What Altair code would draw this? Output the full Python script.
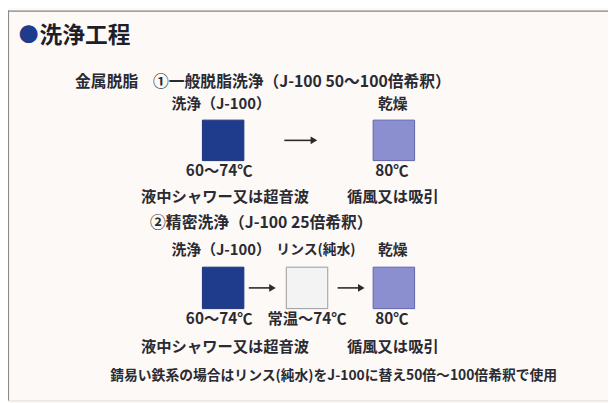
import altair as alt
import pandas as pd

# ---------------- content (text values) ----------------
TITLE_BULLET = "●"
TITLE = "洗浄工程"
HEADER1_A = "金属脱脂"
HEADER1_B = "①一般脱脂洗浄（J-100 50〜100倍希釈）"
HEADER2 = "②精密洗浄（J-100 25倍希釈）"
STEPS1 = ["洗浄（J-100）", "乾燥"]
KIND1 = ["wash", "dry"]
TEMPS1 = ["60〜74℃", "80℃"]
STEPS2 = ["洗浄（J-100）", "リンス(純水)", "乾燥"]
KIND2 = ["wash", "rinse", "dry"]
TEMPS2 = ["60〜74℃", "常温〜74℃", "80℃"]
METHODS = ["液中シャワー又は超音波", "循風又は吸引"]
NOTE = "錆易い鉄系の場合はリンス(純水)をJ-100に替え50倍〜100倍希釈で使用"

# ---------------- layout & style ----------------
FONT = "Noto Sans CJK JP"
TXT = "#2a2a32"
NAVY = "#1f3c8c"
FILL = {"wash": NAVY, "rinse": "#f3f3f4", "dry": "#8b8fd0"}
EDGE = {"wash": "#1a3278", "rinse": "#9a9a9a", "dry": "#5f63ad"}
COLX = {"wash": 226, "rinse": 311, "dry": 399}
LABELX = {"wash": 224, "rinse": 320, "dry": 398}
TEMPX = {"wash": 222, "rinse": 311, "dry": 397}
METHODX = [228, 398]
BOX_HALF = 21
ROW1 = dict(label=103, top=119, bottom=160, temp=171, method=197)
ROW2 = dict(label=251, top=268, bottom=310, temp=321, method=349)
Y_TITLE, Y_H1, Y_H2, Y_NOTE = 34, 80, 223, 378

X0, Y0, W, H = 8, 8, 608, 395
xs = alt.Scale(domain=[X0, X0 + W], nice=False, zero=False)
ys = alt.Scale(domain=[Y0, Y0 + H], nice=False, zero=False, reverse=True)

# ---------------- tables ----------------
centered = []
boxes = []
for row, steps, kinds, temps in ((ROW1, STEPS1, KIND1, TEMPS1), (ROW2, STEPS2, KIND2, TEMPS2)):
    for s, k, t in zip(steps, kinds, temps):
        centered.append(dict(x=LABELX[k], y=row["label"], text=s, size=14 if k == "rinse" else 15))
        centered.append(dict(x=TEMPX[k], y=row["temp"], text=t, size=15.5))
        boxes.append(dict(x=COLX[k] - BOX_HALF, x2=COLX[k] + BOX_HALF, y=row["top"], y2=row["bottom"],
                          fill=FILL[k], edge=EDGE[k]))
    for m, mx in zip(METHODS, METHODX):
        centered.append(dict(x=mx, y=row["method"], text=m, size=15.5))
centered.append(dict(x=338, y=Y_NOTE, text=NOTE, size=14))
centered_df = pd.DataFrame(centered)
boxes_df = pd.DataFrame(boxes)

left_df = pd.DataFrame([
    dict(x=76, y=Y_H1, text=HEADER1_A, size=16),
    dict(x=155, y=Y_H1, text=HEADER1_B, size=16),
    dict(x=152, y=Y_H2, text=HEADER2, size=16),
])
title_df = pd.DataFrame([dict(x=40, y=Y_TITLE, text=TITLE)])
bullet_df = pd.DataFrame([dict(x=19, y=Y_TITLE, text=TITLE_BULLET)])

# arrows (start, end, y)
r1y = (ROW1["top"] + ROW1["bottom"]) / 2
r2y = (ROW2["top"] + ROW2["bottom"]) / 2
arrows_df = pd.DataFrame([
    dict(x=288, x2=318, y=r1y),
    dict(x=252, x2=276, y=r2y),
    dict(x=342, x2=366, y=r2y),
])

frame_h = pd.DataFrame([dict(x=X0, x2=X0 + W, y=Y0 + 0.5)])
frame_v = pd.DataFrame([dict(x=X0 + 0.5, y=Y0, y2=Y0 + H)])

X = lambda f="x": alt.X(f"{f}:Q", scale=xs, axis=None)
Y = lambda f="y": alt.Y(f"{f}:Q", scale=ys, axis=None)

frame1 = alt.Chart(frame_h).mark_rule(color="#8a8a8a", strokeWidth=1.2).encode(
    x=X(), x2="x2:Q", y=Y())
frame2 = alt.Chart(frame_v).mark_rule(color="#8a8a8a", strokeWidth=1.2).encode(
    x=X(), y=Y(), y2="y2:Q")

rects = alt.Chart(boxes_df).mark_rect(strokeWidth=1).encode(
    x=X(), x2="x2:Q", y=Y(), y2="y2:Q",
    fill=alt.Fill("fill:N", scale=None), stroke=alt.Stroke("edge:N", scale=None))

shafts = alt.Chart(arrows_df).mark_rule(color="#2a2a2a", strokeWidth=1.6).encode(
    x=X(), x2="x2:Q", y=Y())
heads = alt.Chart(arrows_df).mark_point(shape="triangle-right", filled=True, color="#2a2a2a",
                                        size=60, opacity=1).encode(x=X("x2"), y=Y())

ctext = alt.Chart(centered_df).mark_text(font=FONT, fontWeight="bold", color=TXT,
                                         align="center", baseline="middle").encode(
    x=X(), y=Y(), text="text:N", size=alt.Size("size:Q", scale=None))
ltext = alt.Chart(left_df).mark_text(font=FONT, fontWeight="bold", color=TXT,
                                     align="left", baseline="middle").encode(
    x=X(), y=Y(), text="text:N", size=alt.Size("size:Q", scale=None))
title = alt.Chart(title_df).mark_text(font=FONT, fontWeight="bold", color="#1e1e2a",
                                      align="left", baseline="middle", fontSize=23).encode(
    x=X(), y=Y(), text="text:N")
bullet = alt.Chart(bullet_df).mark_text(font=FONT, color=NAVY, align="left",
                                        baseline="middle", fontSize=20).encode(
    x=X(), y=Y(), text="text:N")

chart = alt.layer(frame1, frame2, rects, shafts, heads, ctext, ltext, title, bullet).properties(
    width=W, height=H, padding=0, autosize=alt.AutoSizeParams(type="none")
).configure_view(stroke=None).configure(background="#fcf9f6")

chart.save("out.html", embed_options={"renderer": "svg", "actions": False})
